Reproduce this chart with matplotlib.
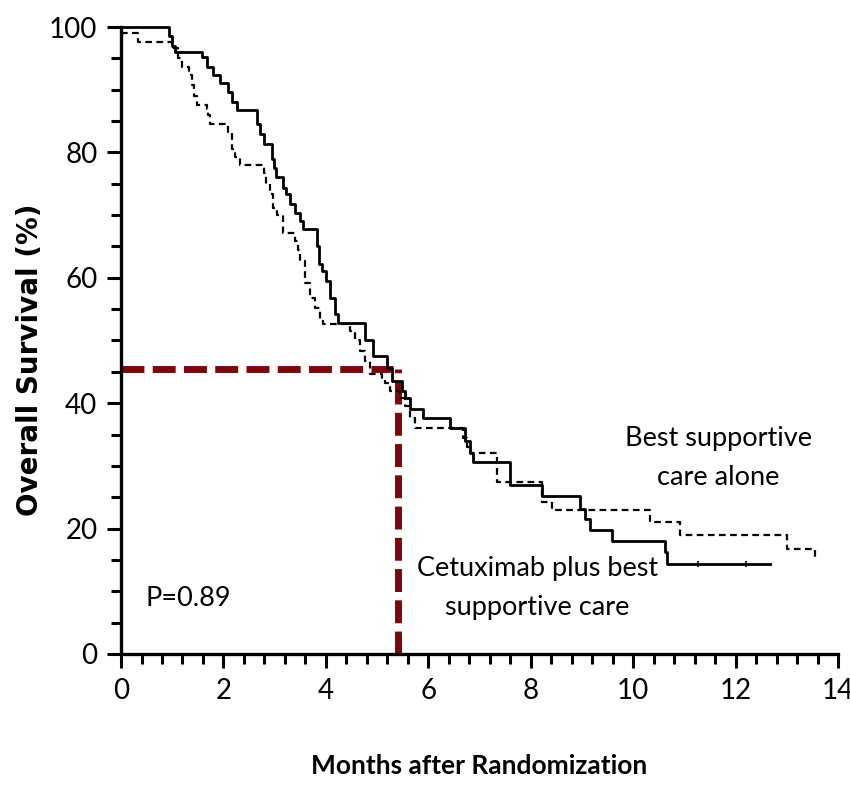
import matplotlib
matplotlib.use("Agg")
import matplotlib.pyplot as plt
from matplotlib.ticker import MultipleLocator

# Cetuximab plus best supportive care (solid line): step times (months) and survival (%)
cetux_months = [0, 0.94, 1.00, 1.05, 1.58, 1.68, 1.80, 1.93, 2.09, 2.17, 2.27, 2.66, 2.71,
                2.79, 2.95, 2.99, 3.03, 3.16, 3.22, 3.30, 3.40, 3.50, 3.55, 3.83, 3.87,
                3.93, 4.00, 4.08, 4.18, 4.24, 4.77, 4.92, 5.20, 5.29, 5.49, 5.55, 5.64,
                5.90, 6.43, 6.72, 6.82, 6.88, 7.60, 8.22, 8.96, 9.06, 9.16, 9.59, 10.63,
                10.66, 12.68]
cetux_surv = [100, 98.5, 97, 96, 95.2, 93.6, 92.3, 91, 89.6, 88, 86.7, 84.5, 83,
              81.4, 79, 77.5, 76, 74.4, 73.3, 71.8, 70.4, 69, 67.8, 65, 62.2,
              61.1, 59.5, 56.8, 54.2, 52.8, 50, 47.5, 45.6, 43.5, 42, 40.8, 39,
              37.6, 36, 34, 32, 30.7, 27, 25.2, 23.2, 21.6, 19.8, 18.1, 16.3,
              14.4, 14.4]
cetux_censor = [11.27, 12.2]

# Best supportive care alone (dashed line)
bsc_months = [0, 0.33, 1.00, 1.11, 1.19, 1.33, 1.39, 1.43, 1.48, 1.68, 1.70, 1.74, 2.09,
              2.17, 2.23, 2.32, 2.79, 2.83, 2.91, 2.97, 3.05, 3.16, 3.40, 3.46, 3.50,
              3.59, 3.69, 3.79, 3.89, 3.95, 4.47, 4.57, 4.67, 4.77, 4.86, 5.10, 5.16,
              5.25, 5.45, 5.55, 5.64, 5.74, 6.68, 6.76, 6.82, 7.34, 8.22, 8.42, 10.33,
              10.92, 13.01, 13.55, 13.58]
bsc_surv = [99, 97.6, 96.6, 95, 93.6, 92.3, 90.7, 89, 87.5, 87, 86, 84.6, 83.2,
            80.6, 79.2, 78, 76.7, 75, 73.4, 71.2, 70, 67.2, 65.9, 64.5, 62.7,
            59.2, 56.8, 55.2, 53.1, 52.6, 51.5, 50, 48.3, 46.7, 44.6, 43.8, 43.2,
            41.9, 40.8, 39.5, 37.6, 36, 34.4, 33, 32, 27.5, 24.3, 22.9, 21.1,
            19, 16.8, 15.5, 15.5]

# median survival guide (months, %)
median_months = 5.4
median_surv = 45.5

x_ticks = [0, 2, 4, 6, 8, 10, 12, 14]
y_ticks = [0, 20, 40, 60, 80, 100]

font = ["Lato", "DejaVu Sans"]

fig = plt.figure(figsize=(8.5, 7.85), dpi=100)
ax = fig.add_axes([0.1424, 0.1669, 0.8435, 0.7987])

ax.step(cetux_months, cetux_surv, where="post", color="black", lw=2.0,
        clip_on=False, zorder=3)
ax.plot(cetux_censor, [cetux_surv[-1]] * len(cetux_censor), ls="none",
        marker="|", ms=5, mew=1.2, color="black", zorder=3)
ax.step(bsc_months, bsc_surv, where="post", color="black", lw=1.6,
        dashes=(3, 2), clip_on=False, zorder=3)

red = "#7a0a0a"
ax.plot([0, median_months - 0.08], [median_surv, median_surv], color=red, lw=5,
        dashes=(3.3, 1.2), solid_capstyle="butt", zorder=2, clip_on=False)
ax.plot([median_months, median_months], [0, median_surv], color=red, lw=5,
        dashes=(3.3, 1.2), zorder=2, clip_on=False)

ax.set_xlim(0, 14)
ax.set_ylim(0, 100)
ax.set_xticks(x_ticks)
ax.set_yticks(y_ticks)
ax.xaxis.set_minor_locator(MultipleLocator(0.4))
ax.yaxis.set_minor_locator(MultipleLocator(5))

for s in ["top", "right"]:
    ax.spines[s].set_visible(False)
for s in ["left", "bottom"]:
    ax.spines[s].set_linewidth(2.4)

ax.tick_params(axis="both", which="major", direction="out", width=2.2,
               length=10, pad=7)
ax.tick_params(axis="both", which="minor", direction="out", width=2.2,
               length=7)
for lab in ax.get_xticklabels() + ax.get_yticklabels():
    lab.set_family(font)
    lab.set_fontsize(20)

ax.text(11.66, 31.3, "Best supportive\ncare alone", ha="center", va="center",
        fontsize=19.5, family=font, linespacing=1.7)
ax.text(8.13, 10.5, "Cetuximab plus best\nsupportive care", ha="center",
        va="center", fontsize=19.5, family=font, linespacing=1.7)
ax.text(0.47, 8.9, "P=0.89", ha="left", va="center", fontsize=19.5, family=font)

ax.set_xlabel("Months after Randomization", fontsize=19, fontweight="bold",
              family=font)
ax.xaxis.set_label_coords(0.5, -0.16)
ax.set_ylabel("Overall Survival (%)", fontsize=20, fontweight="bold")
ax.yaxis.set_label_coords(-0.108, 0.47)

fig.savefig("out.png", dpi=100)
